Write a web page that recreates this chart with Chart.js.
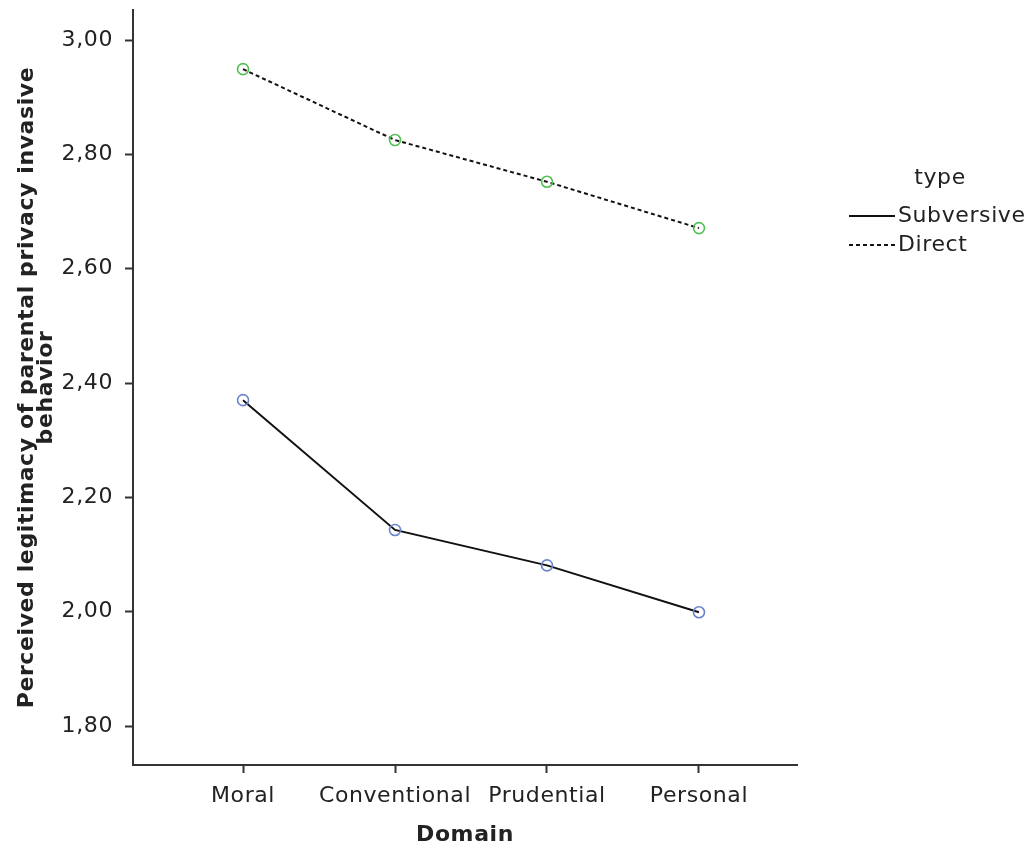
<!DOCTYPE html>
<html>
<head>
<meta charset="utf-8">
<script src="https://cdn.jsdelivr.net/npm/chart.js@4"></script>
<style>
  html, body { margin: 0; padding: 0; background: #fff; }
  #wrap { width: 1032px; height: 852px; }
</style>
</head>
<body>
<div id="wrap"><canvas id="chart" width="1032" height="852"></canvas></div>
<script>
const domains = ["Moral", "Conventional", "Prudential", "Personal"]
const subversive = [2.370, 2.143, 2.081, 1.999]
const direct = [2.949, 2.825, 2.752, 2.671]
const yTicks = [1.8, 2.0, 2.2, 2.4, 2.6, 2.8, 3.0]

const font = "DejaVu Sans"
const axisColor = "#333333"
const spacing = "0.6px"

function toPoints(values) {
  return values.map((v, i) => ({ x: i, y: v }))
}

// the SPSS text is a bit spread out, so widen letters on the canvas
const letterSpacing = {
  id: "letterSpacing",
  beforeUpdate(chart) { chart.ctx.letterSpacing = spacing },
  beforeDraw(chart) { chart.ctx.letterSpacing = spacing }
}

// legend drawn on the right side, like the SPSS output
const sideLegend = {
  id: "sideLegend",
  afterDraw(chart) {
    const ctx = chart.ctx
    ctx.save()
    ctx.letterSpacing = spacing
    ctx.fillStyle = "#222"
    ctx.font = "22px " + font
    ctx.textBaseline = "middle"
    ctx.textAlign = "center"
    ctx.fillText("type", 940, 178)
    ctx.textAlign = "left"
    const items = [
      { label: "Subversive", dash: [], y: 216 },
      { label: "Direct", dash: [4, 3], y: 245 }
    ]
    items.forEach(item => {
      ctx.strokeStyle = "#111"
      ctx.lineWidth = 2
      ctx.setLineDash(item.dash)
      ctx.beginPath()
      ctx.moveTo(849, item.y)
      ctx.lineTo(895, item.y)
      ctx.stroke()
      ctx.setLineDash([])
      ctx.fillText(item.label, 898, item.y)
    })
    ctx.restore()
  }
}

new Chart(document.getElementById("chart"), {
  type: "line",
  data: {
    datasets: [
      {
        label: "Subversive",
        data: toPoints(subversive),
        borderColor: "#111",
        borderWidth: 2,
        pointRadius: 5.5,
        pointBorderWidth: 1.6,
        pointBorderColor: "#6a84cc",
        pointBackgroundColor: "rgba(0,0,0,0)",
        tension: 0
      },
      {
        label: "Direct",
        data: toPoints(direct),
        borderColor: "#111",
        borderWidth: 2,
        borderDash: [4, 3],
        pointRadius: 5.5,
        pointBorderWidth: 1.6,
        pointBorderColor: "#52bf52",
        pointBackgroundColor: "rgba(0,0,0,0)",
        tension: 0
      }
    ]
  },
  options: {
    responsive: false,
    animation: false,
    layout: { padding: { left: 0, right: 235, top: 10, bottom: 0 } },
    plugins: {
      legend: { display: false },
      tooltip: { enabled: false }
    },
    scales: {
      x: {
        type: "linear",
        min: -0.724,
        max: 3.645,
        afterBuildTicks: scale => {
          scale.ticks = domains.map((d, i) => ({ value: i }))
        },
        afterFit: scale => {
          scale.height = 87
          scale.paddingLeft = 0
          scale.paddingRight = 0
        },
        grid: { drawOnChartArea: false, tickLength: 8, tickColor: axisColor, tickWidth: 2 },
        border: { color: axisColor, width: 2 },
        ticks: {
          padding: 10,
          color: "#222",
          font: { family: font, size: 22 },
          callback: v => domains[v]
        },
        title: {
          display: true,
          text: "Domain",
          color: "#222",
          font: { family: font, size: 22, weight: "bold" },
          padding: { top: 6 }
        }
      },
      y: {
        min: 1.7318,
        max: 3.0525,
        afterBuildTicks: scale => {
          scale.ticks = yTicks.map(v => ({ value: v }))
        },
        afterFit: scale => {
          scale.width = 133
          scale.paddingTop = 0
          scale.paddingBottom = 0
        },
        grid: { drawOnChartArea: false, tickLength: 8, tickColor: axisColor, tickWidth: 2 },
        border: { color: axisColor, width: 2 },
        ticks: {
          padding: 12,
          color: "#222",
          font: { family: font, size: 22 },
          callback: v => v.toFixed(2).replace(".", ",")
        },
        title: {
          display: true,
          text: ["Perceived legitimacy of parental privacy invasive", "behavior"],
          color: "#222",
          font: { family: font, size: 22, weight: "bold", lineHeight: 0.87 },
          padding: { top: 18, bottom: 0 }
        }
      }
    }
  },
  plugins: [letterSpacing, sideLegend]
})
</script>
</body>
</html>
